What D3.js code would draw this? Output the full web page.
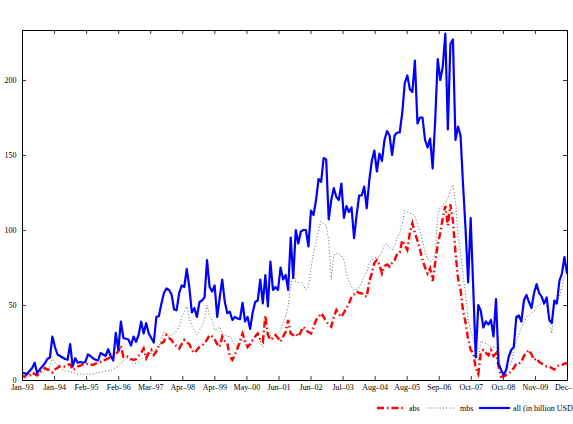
<!DOCTYPE html>
<html>
<head>
<meta charset="utf-8">
<script src="https://cdn.jsdelivr.net/npm/d3@7"></script>
<style>
  html, body { margin: 0; padding: 0; background: #fff; }
  svg { display: block; font-family: "Liberation Serif", "Times New Roman", serif; }
</style>
</head>
<body>
<svg id="chart" width="573" height="424"></svg>
<script>
// Monthly observations, Jan-1993 .. Dec-2010 (216 months), billion USD
const startMonth = "1993-01";
const tickLabels = ["Jan\u201393","Jan\u201394","Feb\u201395","Feb\u201396","Mar\u201397","Apr\u201398","Apr\u201399","May\u201300","Jun\u201301","Jun\u201302","Jul\u201303","Aug\u201304","Aug\u201305","Sep\u201306","Oct\u201307","Oct\u201308","Nov\u201309","Dec\u201310"];
const yTicks = [0, 50, 100, 150, 200];
const seriesNames = ["abs", "mbs", "all (in billion USD)"];

const allVals = [
  5, 4.5, 4, 6, 8, 11.5, 4.5, 7, 9, 11,
  14, 15, 29, 22, 17, 16, 15, 14, 13.5, 24,
  9, 14.5, 11.5, 12, 11.5, 12, 17, 16, 14.5, 13.5,
  13, 18, 17, 16, 20.5, 16, 13, 31.5, 20, 39,
  28, 27.5, 27, 23, 29, 25.5, 30, 39, 31, 38,
  31, 28, 25, 42, 42.7, 51, 58, 61, 60, 57,
  47, 46.5, 58, 63, 62, 74, 62, 45, 48, 42,
  52, 53, 55, 80, 62, 59, 63, 42, 55, 67,
  52, 44.5, 45.5, 40, 42, 41, 40.5, 51.5, 39, 42,
  34, 45, 52, 53, 67, 51, 70, 49, 79, 60,
  62, 60, 75, 67, 70, 60, 95, 68, 100, 91,
  99, 100, 100, 89, 113, 110, 120, 134, 132, 148,
  147, 107, 120, 128, 122, 120, 131, 108, 116, 112,
  115, 94.5, 110, 123, 123, 129, 114.5, 133, 146, 153,
  139, 151, 146, 160, 166, 163, 150, 163, 165, 165,
  178, 198, 203, 194, 192, 213, 171, 175, 175, 160,
  155, 161, 141, 173, 214, 200, 209, 231, 167, 224,
  227, 160, 169, 163, 130, 100, 65, 108, 62, 15,
  50, 46, 35, 39, 37, 40, 29, 54, 11, 6.7,
  3.3, 6.7, 15.5, 20, 22, 42, 43, 39, 53, 56.7,
  52, 48, 58, 64, 58, 55.5, 51, 55, 40, 38,
  53, 51, 66, 71, 82, 71
];

const absVals = [
  3, 2, 4, 3, 5, 4, 3, 5.5, 6, 8,
  7, 6.7, 5, 7, 8, 9.3, 9, 9, 10, 10.5,
  6.7, 7.5, 9, 9.5, 10.5, 10, 11, 10.5, 10, 11,
  11.5, 12, 13.3, 13.5, 14.5, 15, 15.5, 17.5, 19, 23,
  15.5, 16, 15.5, 14, 13.3, 14, 16, 18, 21, 14.5,
  18, 20, 16.7, 19, 23, 24.5, 25.5, 30, 28, 26.7,
  24, 22.5, 21, 24, 26.7, 25, 24, 20, 18, 20,
  22, 23, 24.5, 27, 30, 29, 27, 24, 22, 29,
  26, 24.5, 15.5, 13.3, 17, 21, 26, 31, 26, 22,
  24, 26.7, 29, 31, 27, 25.5, 43, 30, 26.7, 28,
  30, 28, 25.5, 29, 32, 40, 31, 30, 31, 29,
  32, 35.5, 33.3, 32, 31, 35, 40, 42, 44.5, 42,
  39, 37, 35.5, 42, 46.7, 44, 42, 45, 47.8, 51,
  55.5, 57, 59, 58, 57.8, 56, 55.5, 66, 71, 78,
  80, 77, 71, 76, 77, 75.5, 78, 80, 84, 85,
  93, 90, 86.7, 98, 104.5, 98, 93, 87, 80, 75,
  71, 74.5, 66, 78, 90, 98, 108, 116, 103, 117,
  106, 85, 68, 60, 46, 38, 27, 20, 18, 8,
  4, 18, 20, 18, 16.5, 20, 16, 17.8, 9, 2.2,
  2.5, 3.3, 4, 6, 8, 11, 11, 12, 16, 18,
  20, 17, 13.3, 14.5, 12, 11, 10, 9, 8.9, 8,
  7, 9, 10, 10, 11, 11
];

const mbsVals = [
  2, 3, 3, 2, 3, 4, 3, 4, 5, 6,
  7, 9, 15, 12, 10, 8, 7, 6, 6, 5.5,
  5, 4.5, 4, 4, 3.5, 4, 4, 3.5, 4, 4.5,
  5, 5, 5.5, 6, 6, 6.5, 7, 8.4, 9, 11,
  13, 15.5, 14, 12, 11, 11, 12, 14, 15, 16,
  17, 18, 19, 21, 22, 27, 32, 30, 29, 30,
  31, 33, 35.5, 42, 45, 49, 41, 36, 33, 30,
  33, 36, 40, 50, 42, 40, 33, 34, 35.5, 31,
  30, 29, 29, 26, 23, 22, 24, 26.7, 24, 22,
  21, 25, 30, 31, 26, 22, 30, 33, 29, 27,
  29, 31, 33, 38, 42, 49, 62, 72, 65.5, 65,
  65.5, 63, 60, 62, 75, 84.5, 92, 100, 106, 104,
  103, 93, 67, 83, 84.5, 84, 83, 80, 70, 66,
  62, 60, 60, 62, 65, 69, 72, 78, 80, 81,
  82, 82, 86, 90, 91, 88, 86.7, 90, 95, 98,
  104, 113, 112, 111, 111, 109, 104, 99, 93, 85,
  81, 79, 80, 83.5, 110, 115, 117, 118, 121, 126,
  130, 119, 97, 85, 70, 57, 40, 33, 27, 21,
  13, 26, 25, 24.5, 23, 22, 22, 22, 9, 6,
  4.4, 6, 9, 11, 18, 26, 30, 35, 38, 42,
  43, 44.5, 46, 49, 50, 51, 50, 49, 40, 31,
  49, 52, 55.5, 62, 69, 71
];

const W = 573, H = 424;
const m = { left: 22, right: 567, top: 30, bottom: 380 };
const svg = d3.select("#chart");

const n = allVals.length;
const x = d3.scaleLinear().domain([0, n - 1]).range([m.left, m.right]);
const y = d3.scaleLinear().domain([0, 350 / 1.5]).range([m.bottom, m.top]);

const clip = svg.append("clipPath").attr("id", "plotclip")
  .append("rect").attr("x", m.left).attr("y", m.top)
  .attr("width", m.right - m.left).attr("height", m.bottom - m.top);

const tickPos = tickLabels.map((_, k) => (n - 1) * k / (tickLabels.length - 1));

const line = d3.line().x((d, i) => x(i)).y(d => y(d));
const g = svg.append("g").attr("clip-path", "url(#plotclip)");

g.append("path").datum(absVals)
  .attr("d", line).attr("fill", "none")
  .attr("stroke", "#ff0000").attr("stroke-width", 2.4)
  .attr("stroke-dasharray", "7,3,1.5,3");

g.append("path").datum(mbsVals)
  .attr("d", line).attr("fill", "none")
  .attr("stroke", "#222").attr("stroke-width", 0.7)
  .attr("stroke-dasharray", "1,2.2");

g.append("path").datum(allVals)
  .attr("d", line).attr("fill", "none")
  .attr("stroke", "#0000ff").attr("stroke-width", 2.2)
  .attr("stroke-linejoin", "round");

// Axes (box with inward ticks)
const fs = 8;
const axB = svg.append("g").attr("transform", `translate(0,${m.bottom})`)
  .call(d3.axisBottom(x).tickValues(tickPos).tickSizeInner(-4).tickSizeOuter(0).tickPadding(4)
    .tickFormat((d, i) => tickLabels[i]));
const axT = svg.append("g").attr("transform", `translate(0,${m.top})`)
  .call(d3.axisTop(x).tickValues(tickPos).tickSizeInner(-4).tickSizeOuter(0).tickFormat(""));
const axL = svg.append("g").attr("transform", `translate(${m.left},0)`)
  .call(d3.axisLeft(y).tickValues(yTicks).tickSizeInner(-4).tickSizeOuter(0).tickPadding(4));
const axR = svg.append("g").attr("transform", `translate(${m.right},0)`)
  .call(d3.axisRight(y).tickValues(yTicks).tickSizeInner(-4).tickSizeOuter(0).tickFormat(""));

[axB, axT, axL, axR].forEach(a => {
  a.selectAll(".domain").attr("stroke", "#000").attr("stroke-width", 1);
  a.selectAll(".tick line").attr("stroke", "#000").attr("stroke-width", 0.8);
  a.selectAll("text").attr("fill", "#000")
    .style("font-family", '"Liberation Serif", "Times New Roman", serif')
    .style("font-size", fs + "px");
});
axL.selectAll("text").attr("dx", "-0.2em");

// Legend
const lg = svg.append("g");
const ly = 408;
const items = [
  { x1: 377, x2: 405, tx: 409, stroke: "#ff0000", w: 2.4, dash: "7,3,1.5,3", name: seriesNames[0] },
  { x1: 427, x2: 455, tx: 460, stroke: "#222", w: 0.7, dash: "1,2.2", name: seriesNames[1] },
  { x1: 479, x2: 510, tx: 513, stroke: "#0000ff", w: 2.2, dash: null, name: seriesNames[2] }
];
items.forEach(it => {
  lg.append("line").attr("x1", it.x1).attr("x2", it.x2).attr("y1", ly).attr("y2", ly)
    .attr("stroke", it.stroke).attr("stroke-width", it.w)
    .attr("stroke-dasharray", it.dash);
  lg.append("text").attr("x", it.tx).attr("y", ly).attr("dy", "0.33em")
    .style("font-size", fs + "px").attr("fill", "#000").text(it.name);
});
</script>
</body>
</html>
